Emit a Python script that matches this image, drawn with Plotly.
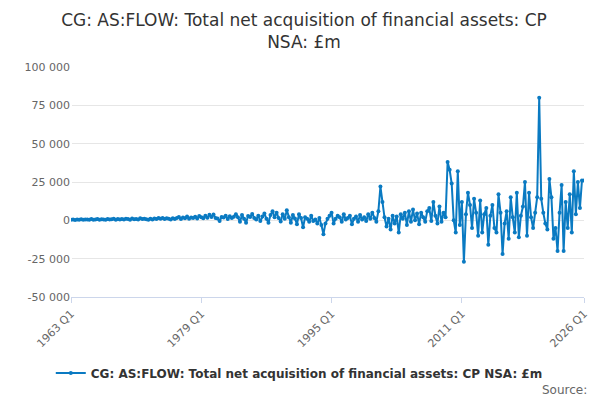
import plotly.graph_objects as go

# values in £m, quarterly from 1963 Q1 to 2026 Q1
v_1963_1975 = [300,500,200,600, 400,700,300,500, 600,300,800,400, 500,900,400,700,
               600,300,900,500, 700,1000,400,800, 500,900,600,1100, 800,400,1200,700,
               900,600,1300,800, 1000,700,400,1100, 600,1200,900,1500, 1000,1600,800,1300,
               1100,500,1400,900]
v_1976_1985 = [1500,2200,900,1800, 1300,2500,1100,1900, 1600,2400,1200,2800, 2000,1400,3000,1700,
               3600,2200,3800,1500, 1200,-500,2200,1800, 3000,800,2600,1500, 2400,4000,2000,-1000,
               3500,1000,-1500,2800, 2200,4200,1500,500]
v_1986_1994 = [3000,-500,2500,4500, 1000,-1500,3500,6000, 2000,5000,1500,-800, 4000,1000,6500,2000,
               -1500,3500,1200,-2500, 4000,1500,-4500,2000, 1000,-1000,3000,-500, 500,-2000,1500,-3000,
               -9000,-2000,1000,3000]
v_1995_2000 = [5000,-2000,1000,3000, 2000,-1000,4000,500, 1500,3000,-2500,1000, 2500,-1000,3500,500,
               2000,-500,4000,1000, 5000,1500,-1000,6000]
v_2001_2007 = [22000,12000,2000,-4000, 1000,-6000,3000,-2000, 2500,-8000,4000,1000, 5000,-3000,6000,-1000,
               7000,0,4500,-2500, 5000,2000,-1000,6000, 8000,-500,12000,3000]
v_2008_2012 = [-2000,9000,-1000,5000, 2000,38000,33000,24000, 0,-8000,32000,-3000, 12000,-27000,4000,18000,
               10000,-5000,14000,5000]
v_2013_2019 = [-10000,13000,-8000,4000, 8000,-16000,3000,10000, -5000,-8000,17000,5000, -22000,-2000,6000,-12000,
               15000,2000,-8000,18000, -11000,3000,9000,25000, -10000,18000,2000,-5000]
v_2020_2026 = [5000,15000,80000,14000, 5000,-2000,-6000,27000, 15000,-12000,-5000,-20000, 5000,23000,-20000,12000,
               -5000,17000,-8000,32000, 4000,25000,8000,26000, 26000]

values = v_1963_1975 + v_1976_1985 + v_1986_1994 + v_1995_2000 + v_2001_2007 + v_2008_2012 + v_2013_2019 + v_2020_2026
values = values[:253]
start_year = 1963
idx = list(range(len(values)))
labels = [f"{start_year + i//4} Q{i%4+1}" for i in idx]
tick_idx = [0, 64, 128, 192, 252]
tick_text = ["1963 Q1", "1979 Q1", "1995 Q1", "2011 Q1", "2026 Q1"]

fig = go.Figure(go.Scatter(
    x=idx, y=values, mode="lines+markers",
    line=dict(color="#0a7ac2", width=2), marker=dict(size=4, color="#0a7ac2"),
    name="<b>CG: AS:FLOW: Total net acquisition of financial assets: CP NSA: £m</b>",
    text=labels, hovertemplate="%{text}: %{y}<extra></extra>"))

fig.update_layout(
    width=592, height=392, plot_bgcolor="white", paper_bgcolor="white",
    font=dict(family="DejaVu Sans", color="#333"),
    title=dict(text="CG: AS:FLOW: Total net acquisition of financial assets: CP<br>NSA: £m",
               x=0.5, xanchor="center", y=0.955, font=dict(size=17, color="#333")),
    margin=dict(l=63, r=16, t=59, b=103, autoexpand=False),
    showlegend=True,
    legend=dict(orientation="h", x=0.445, xanchor="center", y=-0.33, yanchor="middle",
                font=dict(size=12, color="#333")),
    annotations=[dict(text="Source:", x=1.01, xref="paper", y=-0.405, yref="paper",
                      showarrow=False, xanchor="right", yanchor="middle",
                      font=dict(size=12, color="#666"))],
)
fig.update_xaxes(tickvals=tick_idx, ticktext=tick_text, tickangle=-45, range=[0, 252],
                 showgrid=False, showline=True, linecolor="#ccd6eb", ticks="outside",
                 tickcolor="#ccd6eb", tickfont=dict(size=11, color="#666"), automargin=False)
fig.update_yaxes(range=[-50000, 100000], tickvals=[-50000, -25000, 0, 25000, 50000, 75000, 100000],
                 ticktext=["-50 000", "-25 000", "0", "25 000", "50 000", "75 000", "100 000"],
                 gridcolor="#e6e6e6", zeroline=False, tickfont=dict(size=11, color="#666"),
                 automargin=False)
fig.write_html("out.html")
